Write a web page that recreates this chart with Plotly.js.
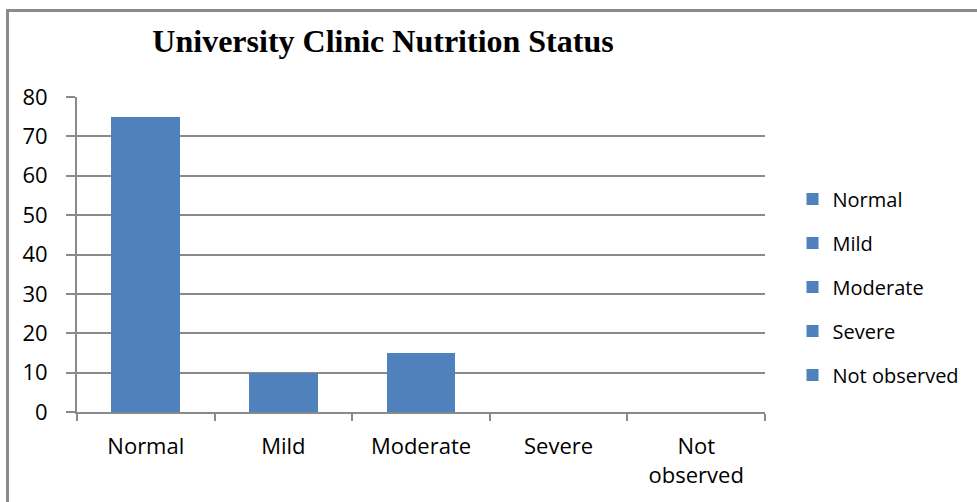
<!DOCTYPE html>
<html>
<head>
<meta charset="utf-8">
<script src="https://cdn.plot.ly/plotly-3.0.1.min.js"></script>
<style>
  html, body { margin: 0; padding: 0; background: #fff; }
  #wrap { position: relative; width: 977px; height: 502px; overflow: hidden; }
  #chart { position: absolute; left: 0; top: 0; width: 977px; height: 502px; }
  #frame { position: absolute; left: 6px; top: 9px; width: 1000px; height: 600px;
           border-top: 3px solid #8a8a8a; border-left: 3px solid #8a8a8a; pointer-events: none; }
</style>
</head>
<body>
<div id="wrap">
  <div id="chart"></div>
  <div id="frame"></div>
</div>
<script>
const categories = ["Normal", "Mild", "Moderate", "Severe", "Not observed"];
const tickLabels = ["Normal", "Mild", "Moderate", "Severe", "Not<br>observed"];
const values = [75, 10, 15, 0, 0];
const titleText = "University Clinic Nutrition Status";
const barColor = "#4f81bd";

const traces = categories.map((c, i) => ({
  type: "bar",
  name: c,
  x: [c],
  y: [values[i]],
  marker: { color: barColor },
  legendgroup: "g" + i,
  hoverinfo: "x+y"
}));

const layout = {
  width: 977,
  height: 502,
  paper_bgcolor: "#ffffff",
  plot_bgcolor: "#ffffff",
  margin: { l: 77, r: 212, t: 97, b: 90 },
  barmode: "stack",
  bargap: 0.5,
  showlegend: true,
  title: {
    text: "<b>" + titleText + "</b>",
    font: { family: "Liberation Serif, Times New Roman, serif", size: 32, color: "#000" },
    xref: "container", x: 383 / 977, xanchor: "center",
    yref: "container", y: 1 - 41 / 502, yanchor: "middle"
  },
  xaxis: {
    type: "category",
    categoryorder: "array",
    categoryarray: categories,
    tickvals: categories,
    ticktext: tickLabels,
    tickson: "boundaries",
    ticks: "outside",
    ticklen: 7,
    tickwidth: 2,
    tickcolor: "#8a8a8a",
    showline: true,
    linecolor: "#8a8a8a",
    linewidth: 2,
    showgrid: false,
    zeroline: false,
    ticklabelstandoff: 14,
    tickfont: { family: "Open Sans, sans-serif", size: 22, color: "#000" }
  },
  yaxis: {
    range: [0, 80],
    dtick: 10,
    tick0: 0,
    ticks: "outside",
    ticklen: 9,
    tickwidth: 2,
    tickcolor: "#8a8a8a",
    showline: true,
    linecolor: "#8a8a8a",
    linewidth: 2,
    showgrid: true,
    gridcolor: "#8a8a8a",
    gridwidth: 2,
    zeroline: false,
    ticklabelstandoff: 14,
    tickfont: { family: "Open Sans, sans-serif", size: 22, color: "#000" }
  },
  legend: {
    x: 1.040, xanchor: "left",
    y: 0.397, yanchor: "middle",
    itemwidth: 30,
    tracegroupgap: 15,
    traceorder: "grouped",
    font: { family: "Open Sans, sans-serif", size: 20, color: "#000" },
    bgcolor: "rgba(0,0,0,0)"
  }
};

Plotly.newPlot("chart", traces, layout, { displayModeBar: false, staticPlot: true });
</script>
</body>
</html>
